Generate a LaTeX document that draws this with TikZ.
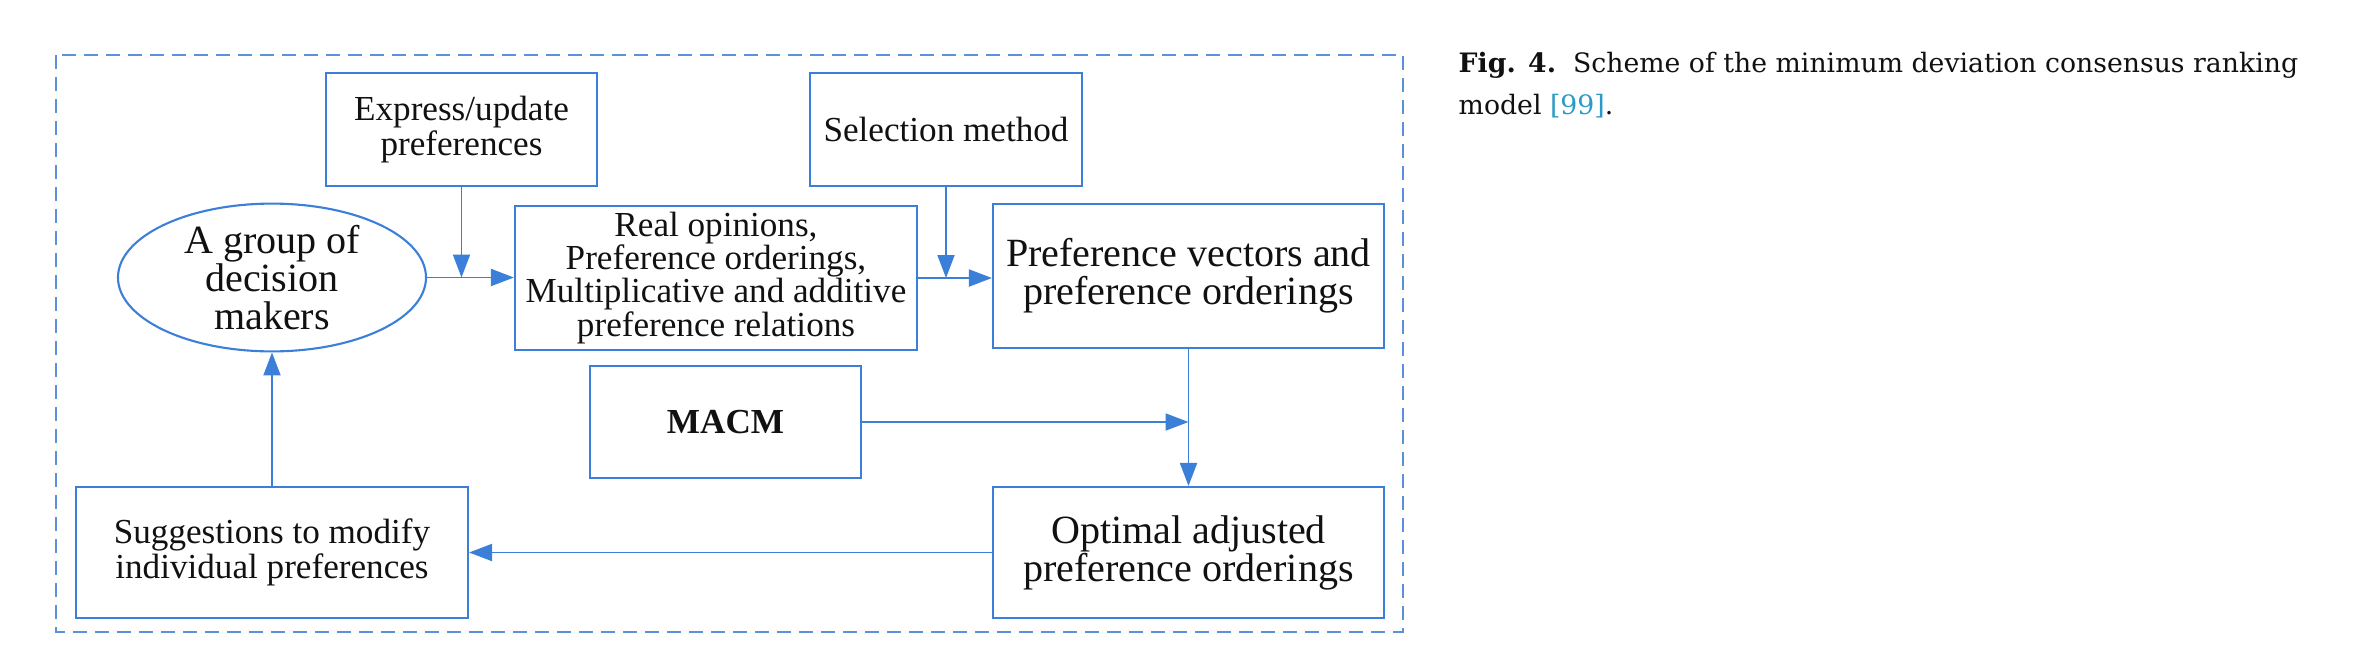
\documentclass[tikz,border=0pt]{standalone}
\usepackage{fontspec}
\setmainfont{Liberation Serif}
\newfontfamily\captionfont{DejaVu Serif}
\usepackage{xcolor}
\usetikzlibrary{arrows.meta}
\usetikzlibrary{shapes.geometric}
\definecolor{colorLine}{HTML}{3C7FD9}
\definecolor{colorFrame}{HTML}{5B90DC}
\definecolor{colorCite}{HTML}{2A9BC8}
\definecolor{colorText}{HTML}{111111}
\def\colorLine{colorLine}
\def\colorFrame{colorFrame}
\def\colorCite{colorCite}
\def\colorText{colorText}

\begin{document}
\begin{tikzpicture}[
    box/.style = {draw = \colorLine , line width = 0.6pt , fill = none , inner sep = 0pt , align = center , text = \colorText},
    small/.style = {font = \fontsize{10pt}{10pt}\selectfont},
    big/.style = {font = \fontsize{11.4pt}{10.8pt}\selectfont},
    link/.style = {draw = \colorLine , line width = 0.55pt , -{Triangle[length=2.3mm , width=1.7mm]}},
  ]

    \useasboundingbox (0,0) rectangle (23.78,-6.55);

    % Cadre en pointilles
    \draw[\colorFrame , line width = 0.6pt , dash pattern = on 1.4mm off 0.8mm] (0.56,-0.55) rectangle (14.03,-6.32);

    % Boites du haut
    \node[box , small , minimum width = 2.71cm , minimum height = 1.13cm] (express) at (4.615,-1.295) {Express/update\\preferences};
    \node[box , small , minimum width = 2.72cm , minimum height = 1.13cm] (select) at (9.46,-1.295) {Selection method};

    % Ligne du milieu
    \node[box , big , ellipse , minimum width = 3.08cm , minimum height = 1.31cm] (group) at (2.72,-2.775) {A group of\\decision\\makers};
    \node[box , small , font = \fontsize{10pt}{9.4pt}\selectfont , minimum width = 4.02cm , minimum height = 1.44cm] (real) at (7.16,-2.78) {Real opinions,\\Preference orderings,\\Multiplicative and additive\\preference relations};
    \node[box , big , minimum width = 3.91cm , minimum height = 1.44cm] (prefvec) at (11.885,-2.76) {Preference vectors and\\preference orderings};

    \node[box , small , font = \fontsize{10pt}{10pt}\selectfont\bfseries , minimum width = 2.71cm , minimum height = 1.12cm] (macm) at (7.255,-4.22) {MACM};

    % Boites du bas
    \node[box , small , minimum width = 3.92cm , minimum height = 1.31cm] (suggest) at (2.72,-5.525) {Suggestions to modify\\individual preferences};
    \node[box , big , minimum width = 3.91cm , minimum height = 1.31cm] (optimal) at (11.885,-5.525) {Optimal adjusted\\preference orderings};

    % Points de jonction
    \coordinate (joinA) at (express.south |- group.east);
    \coordinate (joinB) at (select.south |- real.east);
    \coordinate (joinC) at (prefvec.south |- macm.east);

    % Fleches
    \draw[link] (group.east) -- (real.west |- group.east);
    \draw[link] (express.south) -- (joinA);
    \draw[link] (real.east) -- (prefvec.west |- real.east);
    \draw[link] (select.south) -- (joinB);
    \draw[link] (prefvec.south) -- (optimal.north);
    \draw[link] (macm.east) -- (joinC);
    \draw[link] (optimal.west) -- (suggest.east);
    \draw[link] (suggest.north) -- (group.south);

    % Legende
    \node[anchor = base west , inner sep = 0pt , text = \colorText , font = \captionfont\fontsize{7.6pt}{12pt}\selectfont] (capA) at (14.58,-0.72) {\textbf{Fig. 4.}\ \ Scheme of the minimum deviation consensus ranking};
    \node[anchor = base west , inner sep = 0pt , text = \colorText , font = \captionfont\fontsize{7.6pt}{12pt}\selectfont] (capB) at (14.58,-1.14) {model {\color{\colorCite}[99]}.};

\end{tikzpicture}
\end{document}
